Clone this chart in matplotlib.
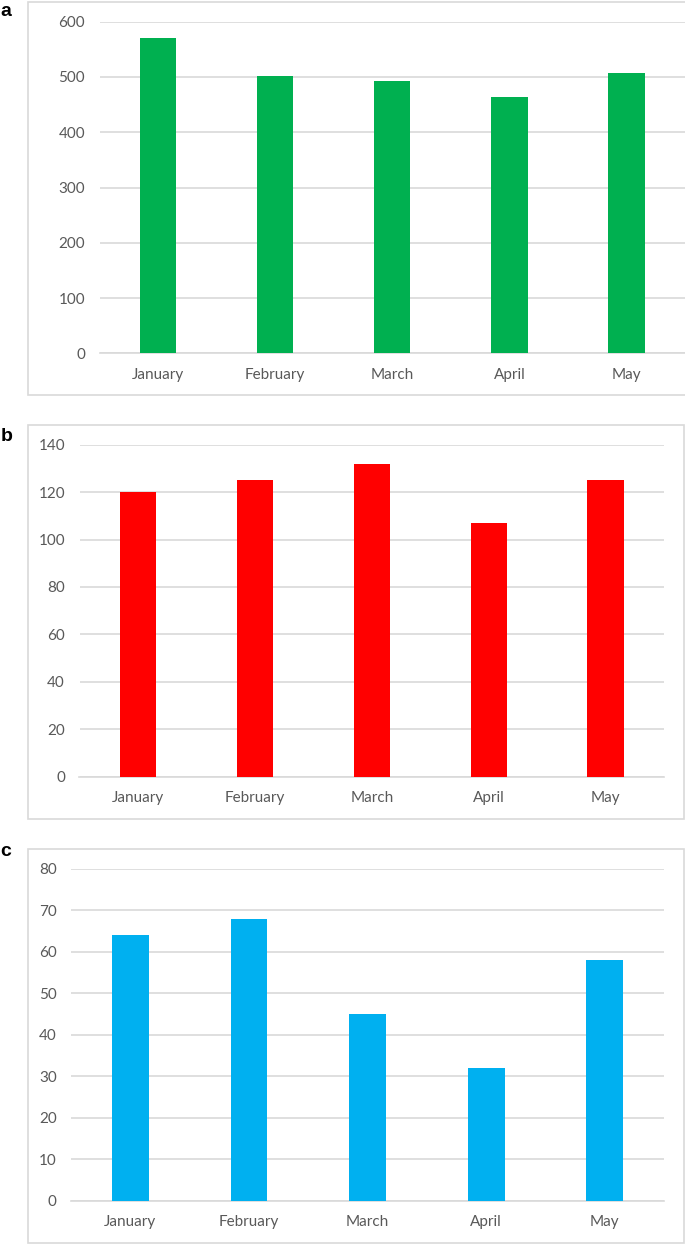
import matplotlib
matplotlib.use("Agg")
import matplotlib.pyplot as plt
from matplotlib.patches import Rectangle

months = ["January", "February", "March", "April", "May"]
values_a = [570, 502, 493, 464, 508]
values_b = [120, 125, 132, 107, 125]
values_c = [64, 68, 45, 32, 58]
yticks_a = [0, 100, 200, 300, 400, 500, 600]
yticks_b = [0, 20, 40, 60, 80, 100, 120, 140]
yticks_c = [0, 10, 20, 30, 40, 50, 60, 70, 80]

W, H = 685, 1244
fig = plt.figure(figsize=(W / 100, H / 100), dpi=100)
fig.patch.set_facecolor("white")

FONT = ["Lato", "DejaVu Sans"]
TXT = "#595959"
GRID = "#d9d9d9"

def px_rect(x0, x1, ytop, ybot):
    return [x0 / W, 1 - ybot / H, (x1 - x0) / W, (ybot - ytop) / H]

panels = [
    # label, values, ticks, color, axes px (x0,x1,ytop,ybot), box px (x0,x1,ytop,ybot), label y
    ("a", values_a, yticks_a, "#00B050", (99.6, 685, 21.7, 353.3), (27.5, 686, 1.5, 395), 12),
    ("b", values_b, yticks_b, "#FF0000", (79.5, 664, 444.7, 776.7), (27.5, 684, 425, 819), 436),
    ("c", values_c, yticks_c, "#00B0F0", (71.2, 664, 869, 1200.7), (27.5, 684, 849, 1243), 852),
]

for lab, vals, ticks, col, ax_px, box_px, ly in panels:
    bx0, bx1, bt, bb = box_px
    fig.patches.append(Rectangle((bx0 / W, 1 - bb / H), (bx1 - bx0) / W, (bb - bt) / H,
                                 transform=fig.transFigure, facecolor="none",
                                 edgecolor=GRID, linewidth=1.2, zorder=0))
    ax = fig.add_axes(px_rect(*ax_px))
    ax.set_facecolor("none")
    x = list(range(len(months)))
    ax.bar(x, vals, width=0.31, color=col, zorder=3)
    ax.set_xlim(-0.5, len(months) - 0.5)
    ax.set_ylim(0, ticks[-1])
    ax.set_yticks(ticks)
    ax.set_yticklabels([str(t) for t in ticks], fontfamily=FONT, fontsize=11, color=TXT)
    ax.set_xticks(x)
    ax.set_xticklabels(months, fontfamily=FONT, fontsize=11, color=TXT)
    ax.tick_params(axis="y", length=0, pad=10.5)
    ax.tick_params(axis="x", length=0, pad=10.5)
    ax.grid(axis="y", color=GRID, linewidth=1.2, zorder=0)
    ax.set_axisbelow(True)
    for s in ["top", "right", "left"]:
        ax.spines[s].set_visible(False)
    ax.spines["bottom"].set_color(GRID)
    ax.spines["bottom"].set_linewidth(1.2)
    fig.text(0.5 / W, 1 - ly / H, lab, fontfamily=["Liberation Sans", "DejaVu Sans"],
             fontweight="bold", fontsize=14, color="black", ha="left", va="center")

fig.savefig("out.png", dpi=100, facecolor="white")
